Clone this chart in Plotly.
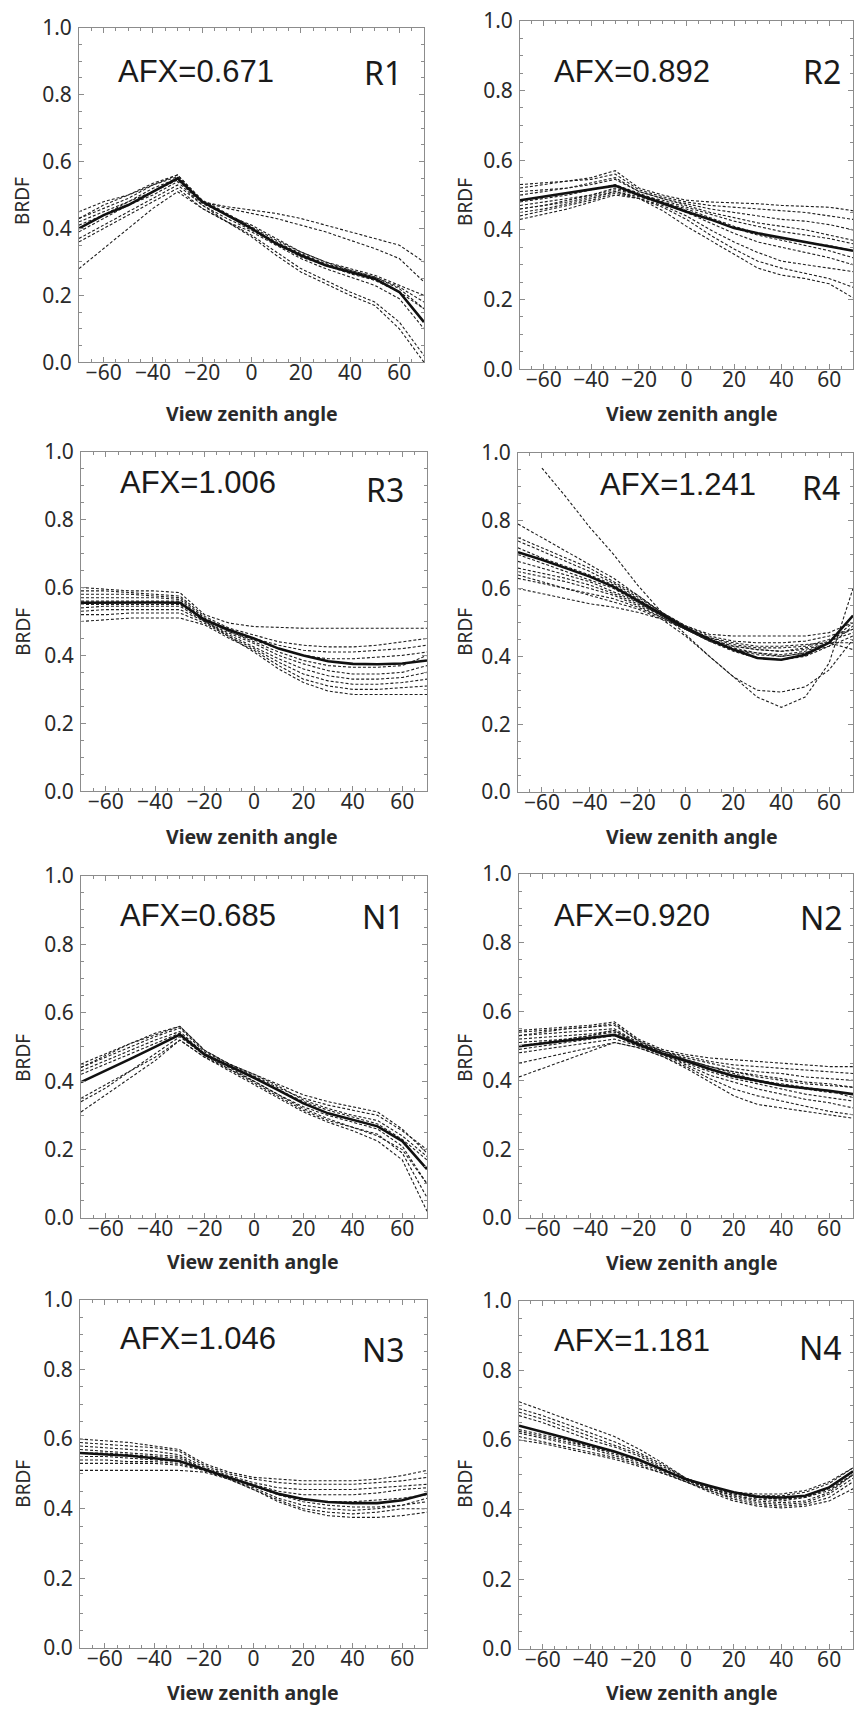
import plotly.graph_objects as go

# View zenith angle grid (degrees)
VZA = [-70, -60, -50, -40, -30, -20, -10, 0, 10, 20, 30, 40, 50, 60, 70]

PANEL_IDS = ["R1", "R2", "R3", "R4", "N1", "N2", "N3", "N4"]
AFX_LABELS = ["AFX=0.671", "AFX=0.892", "AFX=1.006", "AFX=1.241",
              "AFX=0.685", "AFX=0.920", "AFX=1.046", "AFX=1.181"]

# ---------------- R1 ----------------
R1_MEAN = [0.40, 0.44, 0.47, 0.51, 0.55, 0.48, 0.44, 0.40, 0.355, 0.32, 0.29, 0.27, 0.25, 0.21, 0.12]
R1_RUNS = [
    [0.43, 0.46, 0.49, 0.53, 0.56, 0.48, 0.465, 0.455, 0.445, 0.43, 0.41, 0.39, 0.37, 0.35, 0.30],
    [0.45, 0.48, 0.50, 0.53, 0.555, 0.48, 0.46, 0.445, 0.43, 0.41, 0.39, 0.365, 0.34, 0.31, 0.24],
    [0.42, 0.45, 0.48, 0.52, 0.55, 0.48, 0.44, 0.41, 0.37, 0.33, 0.30, 0.28, 0.26, 0.23, 0.20],
    [0.41, 0.44, 0.48, 0.51, 0.545, 0.475, 0.44, 0.40, 0.36, 0.325, 0.295, 0.275, 0.255, 0.225, 0.18],
    [0.39, 0.43, 0.47, 0.50, 0.54, 0.47, 0.43, 0.395, 0.355, 0.315, 0.29, 0.265, 0.245, 0.21, 0.16],
    [0.37, 0.41, 0.45, 0.49, 0.53, 0.47, 0.42, 0.38, 0.33, 0.28, 0.245, 0.21, 0.18, 0.12, 0.02],
    [0.36, 0.40, 0.44, 0.48, 0.52, 0.46, 0.42, 0.375, 0.32, 0.27, 0.235, 0.20, 0.17, 0.10, 0.0],
    [0.28, 0.34, 0.40, 0.46, 0.51, 0.46, 0.42, 0.39, 0.35, 0.31, 0.28, 0.255, 0.23, 0.19, 0.10],
    [0.43, 0.47, 0.50, 0.535, 0.56, 0.485, 0.445, 0.405, 0.365, 0.33, 0.30, 0.275, 0.255, 0.22, 0.16],
]

# ---------------- R2 ----------------
R2_MEAN = [0.485, 0.495, 0.505, 0.515, 0.527, 0.50, 0.475, 0.452, 0.43, 0.405, 0.39, 0.377, 0.365, 0.353, 0.34]
R2_RUNS = [
    [0.52, 0.53, 0.54, 0.55, 0.57, 0.52, 0.50, 0.485, 0.48, 0.478, 0.475, 0.47, 0.468, 0.465, 0.455],
    [0.53, 0.535, 0.54, 0.545, 0.56, 0.515, 0.495, 0.48, 0.47, 0.465, 0.46, 0.455, 0.45, 0.44, 0.43],
    [0.50, 0.51, 0.52, 0.535, 0.55, 0.51, 0.49, 0.475, 0.46, 0.45, 0.44, 0.43, 0.425, 0.415, 0.40],
    [0.51, 0.515, 0.52, 0.53, 0.545, 0.51, 0.49, 0.47, 0.45, 0.435, 0.42, 0.41, 0.40, 0.385, 0.37],
    [0.47, 0.48, 0.49, 0.50, 0.52, 0.50, 0.485, 0.465, 0.445, 0.425, 0.41, 0.395, 0.385, 0.375, 0.36],
    [0.46, 0.47, 0.485, 0.50, 0.515, 0.50, 0.48, 0.46, 0.435, 0.41, 0.39, 0.375, 0.365, 0.355, 0.34],
    [0.48, 0.49, 0.50, 0.515, 0.53, 0.505, 0.48, 0.455, 0.43, 0.405, 0.385, 0.37, 0.355, 0.34, 0.32],
    [0.45, 0.46, 0.475, 0.49, 0.51, 0.495, 0.475, 0.45, 0.42, 0.39, 0.365, 0.35, 0.335, 0.32, 0.30],
    [0.44, 0.455, 0.47, 0.485, 0.505, 0.49, 0.47, 0.44, 0.40, 0.365, 0.335, 0.31, 0.30, 0.29, 0.28],
    [0.43, 0.445, 0.46, 0.48, 0.50, 0.49, 0.465, 0.43, 0.385, 0.345, 0.31, 0.29, 0.275, 0.26, 0.235],
    [0.46, 0.47, 0.48, 0.495, 0.51, 0.49, 0.455, 0.41, 0.37, 0.33, 0.29, 0.27, 0.26, 0.245, 0.205],
]

# ---------------- R3 ----------------
R3_MEAN = [0.555, 0.556, 0.556, 0.556, 0.555, 0.505, 0.475, 0.45, 0.42, 0.40, 0.383, 0.375, 0.374, 0.376, 0.385]
R3_RUNS = [
    [0.60, 0.595, 0.59, 0.59, 0.585, 0.52, 0.495, 0.485, 0.482, 0.48, 0.48, 0.48, 0.48, 0.48, 0.48],
    [0.59, 0.59, 0.585, 0.58, 0.575, 0.515, 0.48, 0.46, 0.44, 0.43, 0.425, 0.425, 0.43, 0.44, 0.45],
    [0.58, 0.58, 0.58, 0.575, 0.57, 0.51, 0.475, 0.45, 0.43, 0.415, 0.41, 0.41, 0.415, 0.42, 0.43],
    [0.57, 0.57, 0.57, 0.57, 0.565, 0.505, 0.47, 0.445, 0.42, 0.40, 0.39, 0.39, 0.395, 0.40, 0.41],
    [0.55, 0.55, 0.55, 0.55, 0.55, 0.505, 0.47, 0.44, 0.41, 0.385, 0.37, 0.365, 0.365, 0.37, 0.40],
    [0.54, 0.545, 0.545, 0.545, 0.545, 0.50, 0.465, 0.435, 0.40, 0.375, 0.355, 0.345, 0.345, 0.35, 0.37],
    [0.53, 0.535, 0.535, 0.535, 0.535, 0.50, 0.46, 0.425, 0.39, 0.36, 0.34, 0.33, 0.33, 0.335, 0.35],
    [0.52, 0.52, 0.525, 0.525, 0.525, 0.495, 0.455, 0.42, 0.38, 0.345, 0.325, 0.315, 0.315, 0.32, 0.33],
    [0.50, 0.505, 0.51, 0.51, 0.51, 0.49, 0.45, 0.415, 0.37, 0.33, 0.31, 0.30, 0.30, 0.305, 0.31],
    [0.56, 0.56, 0.56, 0.56, 0.56, 0.50, 0.455, 0.41, 0.36, 0.32, 0.295, 0.285, 0.285, 0.285, 0.285],
]

# ---------------- R4 ----------------
R4_MEAN = [0.707, 0.685, 0.66, 0.635, 0.605, 0.565, 0.525, 0.485, 0.45, 0.42, 0.395, 0.39, 0.405, 0.44, 0.52]
R4_RUNS = [
    [None, 0.955, 0.87, 0.78, 0.70, 0.61, 0.53, 0.465, 0.40, 0.34, 0.28, 0.25, 0.28, 0.38, 0.60],
    [0.64, 0.62, 0.60, 0.58, 0.56, 0.54, 0.51, 0.46, 0.40, 0.34, 0.30, 0.295, 0.31, 0.36, 0.45],
    [0.79, 0.75, 0.71, 0.67, 0.63, 0.58, 0.53, 0.49, 0.465, 0.46, 0.46, 0.46, 0.46, 0.47, 0.50],
    [0.75, 0.72, 0.69, 0.66, 0.62, 0.58, 0.53, 0.49, 0.46, 0.445, 0.44, 0.44, 0.445, 0.46, 0.48],
    [0.74, 0.71, 0.68, 0.65, 0.615, 0.575, 0.53, 0.485, 0.455, 0.435, 0.425, 0.425, 0.43, 0.45, 0.48],
    [0.72, 0.69, 0.665, 0.64, 0.61, 0.57, 0.525, 0.485, 0.45, 0.43, 0.42, 0.415, 0.425, 0.445, 0.47],
    [0.68, 0.66, 0.64, 0.62, 0.59, 0.56, 0.52, 0.48, 0.445, 0.42, 0.41, 0.405, 0.415, 0.44, 0.52],
    [0.66, 0.645, 0.63, 0.61, 0.585, 0.555, 0.52, 0.48, 0.445, 0.42, 0.405, 0.40, 0.41, 0.44, 0.50],
    [0.65, 0.635, 0.62, 0.60, 0.58, 0.55, 0.515, 0.48, 0.45, 0.425, 0.41, 0.40, 0.41, 0.43, 0.46],
    [0.63, 0.615, 0.60, 0.585, 0.57, 0.545, 0.515, 0.48, 0.45, 0.43, 0.42, 0.415, 0.42, 0.44, 0.42],
    [0.60, 0.585, 0.57, 0.555, 0.545, 0.53, 0.51, 0.48, 0.455, 0.44, 0.43, 0.43, 0.435, 0.44, 0.44],
    [0.70, 0.675, 0.65, 0.625, 0.60, 0.56, 0.52, 0.48, 0.445, 0.415, 0.395, 0.39, 0.40, 0.43, 0.49],
]

# ---------------- N1 ----------------
N1_MEAN = [0.397, 0.43, 0.465, 0.50, 0.536, 0.478, 0.445, 0.41, 0.373, 0.335, 0.306, 0.287, 0.268, 0.225, 0.143]
N1_RUNS = [
    [0.45, 0.48, 0.51, 0.535, 0.56, 0.49, 0.45, 0.42, 0.39, 0.36, 0.34, 0.325, 0.31, 0.26, 0.19],
    [0.44, 0.47, 0.50, 0.53, 0.555, 0.485, 0.45, 0.415, 0.38, 0.35, 0.33, 0.315, 0.30, 0.255, 0.20],
    [0.43, 0.46, 0.49, 0.52, 0.545, 0.48, 0.445, 0.41, 0.375, 0.34, 0.315, 0.295, 0.275, 0.23, 0.17],
    [0.42, 0.45, 0.48, 0.51, 0.54, 0.475, 0.44, 0.40, 0.36, 0.325, 0.30, 0.28, 0.26, 0.21, 0.10],
    [0.35, 0.39, 0.43, 0.48, 0.53, 0.475, 0.435, 0.395, 0.355, 0.315, 0.285, 0.265, 0.24, 0.20, 0.10],
    [0.34, 0.38, 0.43, 0.47, 0.52, 0.47, 0.43, 0.39, 0.35, 0.31, 0.28, 0.255, 0.225, 0.17, 0.02],
    [0.31, 0.36, 0.41, 0.46, 0.52, 0.47, 0.435, 0.40, 0.36, 0.32, 0.29, 0.265, 0.245, 0.19, 0.06],
    [0.44, 0.475, 0.51, 0.54, 0.56, 0.49, 0.45, 0.42, 0.385, 0.345, 0.32, 0.30, 0.285, 0.24, 0.18],
]

# ---------------- N2 ----------------
N2_MEAN = [0.499, 0.508, 0.516, 0.524, 0.532, 0.504, 0.478, 0.456, 0.433, 0.413, 0.398, 0.385, 0.377, 0.37, 0.36]
N2_RUNS = [
    [0.545, 0.55, 0.555, 0.56, 0.57, 0.52, 0.49, 0.475, 0.465, 0.46, 0.455, 0.45, 0.445, 0.44, 0.44],
    [0.54, 0.545, 0.55, 0.555, 0.56, 0.515, 0.485, 0.47, 0.455, 0.445, 0.44, 0.435, 0.43, 0.425, 0.42],
    [0.53, 0.535, 0.54, 0.545, 0.55, 0.51, 0.485, 0.465, 0.45, 0.435, 0.425, 0.42, 0.41, 0.405, 0.40],
    [0.52, 0.525, 0.53, 0.535, 0.545, 0.51, 0.48, 0.46, 0.44, 0.425, 0.41, 0.40, 0.39, 0.385, 0.38],
    [0.51, 0.515, 0.52, 0.53, 0.54, 0.505, 0.48, 0.455, 0.43, 0.41, 0.395, 0.385, 0.375, 0.365, 0.36],
    [0.49, 0.50, 0.51, 0.52, 0.53, 0.50, 0.475, 0.45, 0.425, 0.405, 0.39, 0.375, 0.36, 0.35, 0.34],
    [0.48, 0.49, 0.50, 0.51, 0.52, 0.50, 0.475, 0.445, 0.415, 0.395, 0.375, 0.36, 0.345, 0.335, 0.32],
    [0.45, 0.465, 0.48, 0.495, 0.51, 0.495, 0.47, 0.44, 0.405, 0.375, 0.355, 0.34, 0.325, 0.31, 0.30],
    [0.41, 0.435, 0.46, 0.485, 0.51, 0.495, 0.47, 0.435, 0.395, 0.355, 0.33, 0.32, 0.31, 0.30, 0.29],
    [0.53, 0.54, 0.55, 0.555, 0.565, 0.515, 0.485, 0.46, 0.44, 0.42, 0.40, 0.39, 0.38, 0.37, 0.35],
    [0.50, 0.51, 0.52, 0.53, 0.545, 0.505, 0.48, 0.46, 0.44, 0.425, 0.415, 0.405, 0.395, 0.39, 0.38],
]

# ---------------- N3 ----------------
N3_MEAN = [0.56, 0.556, 0.552, 0.545, 0.537, 0.513, 0.49, 0.466, 0.443, 0.428, 0.419, 0.416, 0.416, 0.424, 0.443]
N3_RUNS = [
    [0.60, 0.595, 0.59, 0.58, 0.57, 0.53, 0.505, 0.49, 0.485, 0.48, 0.48, 0.48, 0.485, 0.495, 0.51],
    [0.59, 0.585, 0.58, 0.575, 0.565, 0.525, 0.50, 0.485, 0.475, 0.47, 0.47, 0.47, 0.475, 0.48, 0.49],
    [0.58, 0.575, 0.57, 0.565, 0.555, 0.52, 0.495, 0.475, 0.46, 0.455, 0.455, 0.455, 0.46, 0.465, 0.47],
    [0.57, 0.565, 0.56, 0.555, 0.55, 0.515, 0.49, 0.47, 0.45, 0.44, 0.44, 0.44, 0.445, 0.455, 0.46],
    [0.55, 0.55, 0.545, 0.54, 0.535, 0.515, 0.49, 0.465, 0.44, 0.425, 0.42, 0.42, 0.425, 0.43, 0.44],
    [0.54, 0.54, 0.535, 0.535, 0.53, 0.51, 0.485, 0.46, 0.43, 0.41, 0.40, 0.395, 0.40, 0.41, 0.42],
    [0.53, 0.53, 0.53, 0.53, 0.525, 0.51, 0.485, 0.455, 0.425, 0.40, 0.39, 0.385, 0.39, 0.40, 0.40],
    [0.51, 0.51, 0.51, 0.51, 0.51, 0.505, 0.485, 0.455, 0.42, 0.395, 0.38, 0.375, 0.375, 0.38, 0.39],
    [0.56, 0.56, 0.555, 0.55, 0.545, 0.515, 0.49, 0.465, 0.44, 0.42, 0.41, 0.405, 0.405, 0.41, 0.43],
]

# ---------------- N4 ----------------
N4_MEAN = [0.641, 0.624, 0.605, 0.586, 0.567, 0.544, 0.515, 0.487, 0.468, 0.45, 0.437, 0.435, 0.44, 0.464, 0.51]
N4_RUNS = [
    [0.71, 0.685, 0.66, 0.635, 0.61, 0.575, 0.535, 0.49, 0.465, 0.45, 0.445, 0.445, 0.455, 0.48, 0.52],
    [0.69, 0.67, 0.645, 0.62, 0.595, 0.565, 0.53, 0.49, 0.465, 0.45, 0.44, 0.44, 0.45, 0.475, 0.52],
    [0.68, 0.66, 0.635, 0.61, 0.585, 0.56, 0.525, 0.49, 0.465, 0.445, 0.435, 0.43, 0.44, 0.465, 0.51],
    [0.67, 0.65, 0.625, 0.60, 0.58, 0.555, 0.52, 0.485, 0.46, 0.44, 0.43, 0.425, 0.435, 0.46, 0.50],
    [0.63, 0.615, 0.60, 0.58, 0.56, 0.54, 0.515, 0.485, 0.46, 0.44, 0.425, 0.42, 0.425, 0.45, 0.50],
    [0.62, 0.605, 0.59, 0.575, 0.555, 0.535, 0.51, 0.48, 0.455, 0.435, 0.42, 0.415, 0.42, 0.445, 0.49],
    [0.61, 0.595, 0.58, 0.565, 0.55, 0.53, 0.505, 0.48, 0.455, 0.43, 0.415, 0.41, 0.415, 0.435, 0.48],
    [0.60, 0.59, 0.575, 0.56, 0.545, 0.525, 0.505, 0.48, 0.45, 0.425, 0.41, 0.405, 0.41, 0.425, 0.46],
    [0.625, 0.61, 0.595, 0.58, 0.565, 0.545, 0.515, 0.485, 0.46, 0.445, 0.435, 0.43, 0.435, 0.455, 0.50],
]

MEANS = [R1_MEAN, R2_MEAN, R3_MEAN, R4_MEAN, N1_MEAN, N2_MEAN, N3_MEAN, N4_MEAN]
RUNS = [R1_RUNS, R2_RUNS, R3_RUNS, R4_RUNS, N1_RUNS, N2_RUNS, N3_RUNS, N4_RUNS]

X_TICKS = [-60, -40, -20, 0, 20, 40, 60]
Y_TICKS = [0.0, 0.2, 0.4, 0.6, 0.8, 1.0]

# ---------------- layout (pixels) ----------------
W, H = 857, 1720
# plot boxes: left, right, top, bottom
BOXES = [
    (79, 424, 13, 353), (520, 853, 6, 360),
    (81, 427, 444, 789), (518, 853, 445, 790),
    (81, 427, 875, 1223), (519, 853, 873, 1223),
    (80, 427, 1306, 1660), (519, 853, 1307, 1661),
]
AFX_POS = [(196, 57), (632, 57), (198, 475), (678, 477),
           (198, 915), (632, 915), (198, 1345), (632, 1347)]
ID_POS = [(383, 58), (822, 57), (385, 482), (821, 480),
          (383, 916), (821, 917), (383, 1357), (820, 1355)]
XT_POS = [(252, 405), (692, 405), (252, 835), (692, 835),
          (253, 1267), (692, 1268), (253, 1705), (692, 1705)]
YT_POS = [(22, 189), (465, 190), (23, 627), (465, 627),
          (23, 1060), (465, 1060), (23, 1493), (465, 1493)]

AXCOL = "#8c8c8c"
TXT = "#2a2a2a"
TICKFONT = dict(family="Noto Sans", size=21, color=TXT)

fig = go.Figure()
annotations = []

for i in range(8):
    k = "" if i == 0 else str(i + 1)
    xa, ya = "x" + k, "y" + k
    for run in RUNS[i]:
        fig.add_trace(go.Scatter(x=VZA, y=run, xaxis=xa, yaxis=ya, mode="lines",
                                 line=dict(color="#1e1e1e", width=1.1, dash="3px,2px"),
                                 connectgaps=False, hoverinfo="skip"))
    fig.add_trace(go.Scatter(x=VZA, y=MEANS[i], xaxis=xa, yaxis=ya, mode="lines",
                             line=dict(color="#111111", width=2.6), hoverinfo="skip"))

    l, r, t, b = BOXES[i]
    xdom = [l / W, r / W]
    ydom = [1 - b / H, 1 - t / H]
    common = dict(showline=True, linecolor=AXCOL, linewidth=1, mirror="allticks",
                  ticks="inside", ticklen=5, tickcolor=AXCOL, tickwidth=1,
                  showgrid=False, zeroline=False, tickfont=TICKFONT, fixedrange=True)
    fig.layout["xaxis" + k] = dict(domain=xdom, range=[-70, 70], anchor=ya,
                                   tickvals=X_TICKS, ticklabelstandoff=-8,
                                   minor=dict(ticks="inside", ticklen=3, dtick=5, tick0=0,
                                              tickcolor=AXCOL, showgrid=False),
                                   **common)
    fig.layout["yaxis" + k] = dict(domain=ydom, range=[0, 1], anchor=xa,
                                   tickvals=Y_TICKS, tickformat=".1f", ticklabelstandoff=2,
                                   minor=dict(ticks="inside", ticklen=3, dtick=0.05, tick0=0,
                                              tickcolor=AXCOL, showgrid=False),
                                   **common)

    ax, ay = AFX_POS[i]
    annotations.append(dict(x=ax / W, y=1 - ay / H, xref="paper", yref="paper",
                            text=AFX_LABELS[i], showarrow=False, xanchor="center", yanchor="middle",
                            font=dict(family="Liberation Sans", size=31, color="#1a1a1a")))
    px, py = ID_POS[i]
    annotations.append(dict(x=px / W, y=1 - py / H, xref="paper", yref="paper",
                            text=PANEL_IDS[i], showarrow=False, xanchor="center", yanchor="middle",
                            font=dict(family="Noto Sans", size=32, color="#1a1a1a")))
    tx, ty = XT_POS[i]
    annotations.append(dict(x=tx / W, y=1 - ty / H, xref="paper", yref="paper",
                            text="<b>View zenith angle</b>", showarrow=False,
                            xanchor="center", yanchor="middle",
                            font=dict(family="Noto Sans", size=19.5, color=TXT)))
    bx, by = YT_POS[i]
    annotations.append(dict(x=bx / W, y=1 - by / H, xref="paper", yref="paper",
                            text="BRDF", showarrow=False, textangle=-90,
                            xanchor="center", yanchor="middle",
                            font=dict(family="Noto Sans", size=19, color=TXT)))

fig.update_layout(width=W, height=H, margin=dict(l=0, r=0, t=0, b=0),
                  paper_bgcolor="white", plot_bgcolor="white",
                  showlegend=False, annotations=annotations)

fig.write_html("out.html", config={"displayModeBar": False},
               post_script="document.documentElement.style.margin='0';"
                           "document.body.style.margin='0';document.body.style.padding='0';"
                           "document.body.style.overflow='hidden';"
                           "document.documentElement.style.overflow='hidden';")
